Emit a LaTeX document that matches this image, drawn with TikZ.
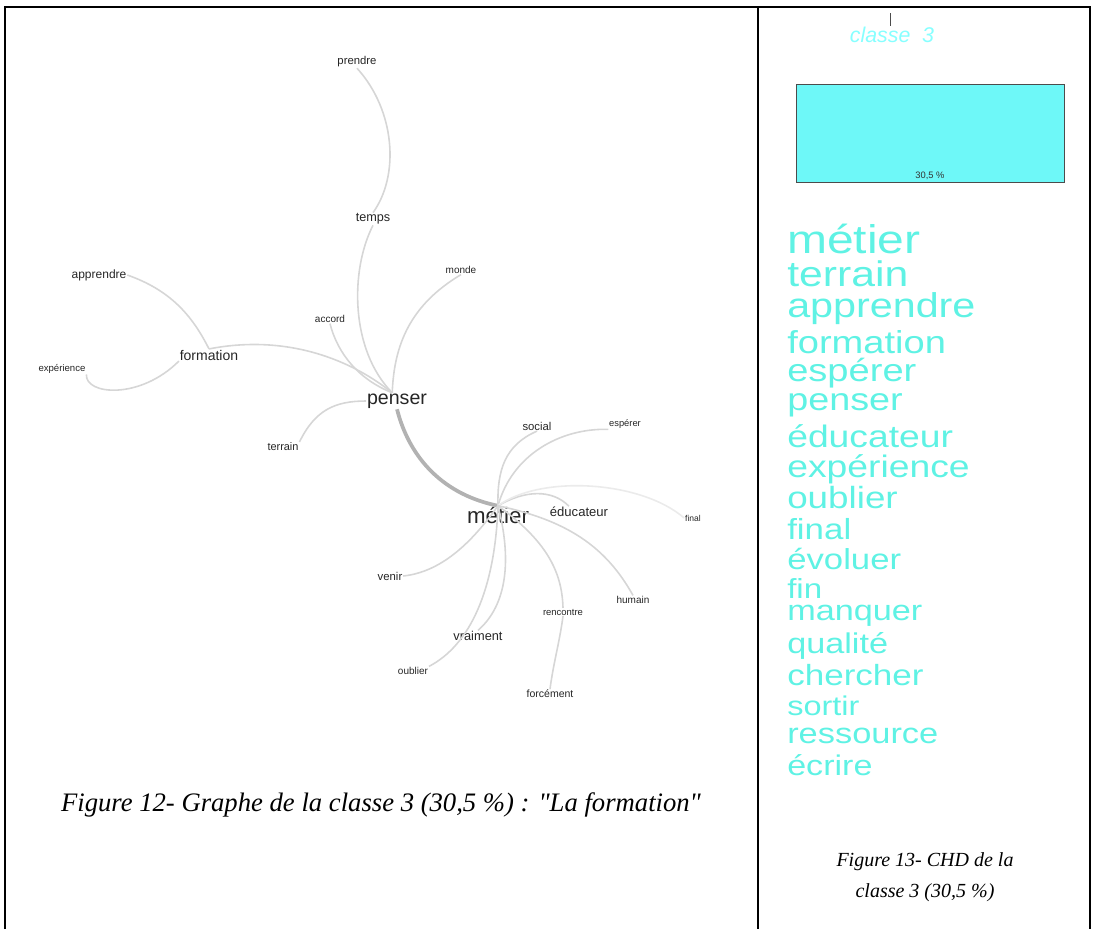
\documentclass[tikz,border=0pt]{standalone}
\usepackage{fontspec}
\setmainfont{Liberation Serif}
\setsansfont{Liberation Sans}
\newfontfamily\listfont[FakeStretch=1.2]{Liberation Sans}
\usetikzlibrary{positioning}

\definecolor{word-cyan}{RGB}{95,242,228}
\definecolor{box-cyan}{RGB}{110,248,248}
\definecolor{title-cyan}{RGB}{135,255,255}
\definecolor{edge-grey}{RGB}{214,214,214}

\tikzset{
    graph-word/.style = {font=\sffamily\fontsize{#1}{#1}\selectfont, text=black!85, inner sep=0.5pt},
    edge-line/.style = {draw=edge-grey, line width=1.2pt},
    faint-line/.style = {draw=black!8, line width=1.2pt},
    main-line/.style = {draw=black!30, line width=2.8pt},
    list-word/.style = {font=\listfont\fontsize{#1}{#1}\selectfont, text=word-cyan, anchor=base west, inner sep=0pt},
    class-box/.style = {draw=black!70, fill=box-cyan, thin, rectangle, inner sep=0pt},
    caption-text/.style = {font=\itshape\fontsize{20}{23}\selectfont, align=center},
    frame-line/.style = {line width=1.5pt},
}

\begin{document}
\begin{tikzpicture}[x=0.75pt, y=-0.75pt]
\useasboundingbox (0,0) rectangle (1094,929);

% frame
\draw[frame-line] (5,929) -- (5,7) -- (1090,7) -- (1090,929);
\draw[frame-line] (758,7) -- (758,929);

% graph words
\node[graph-word=8.5] (prendre) at (357,62) {prendre};
\node[graph-word=9.5] (temps) at (373,219) {temps};
\node[graph-word=9] (apprendre) at (99,275) {apprendre};
\node[graph-word=7.5] (monde) at (461,270) {monde};
\node[graph-word=7.5] (accord) at (330,319) {accord};
\node[graph-word=10.5] (formation) at (209,355) {formation};
\node[graph-word=7.2] (experience) at (62,369) {expérience};
\node[graph-word=14.7] (penser) at (397,401) {penser};
\node[graph-word=8.2] (terrain) at (283,447) {terrain};
\node[graph-word=8.5] (social) at (537,426) {social};
\node[graph-word=7] (esperer) at (625,424) {espérer};
\node[graph-word=16.7] (metier) at (498,515) {métier};
\node[graph-word=9.8] (educateur) at (579,512) {éducateur};
\node[graph-word=6.4] (final) at (693,518) {final};
\node[graph-word=8.5] (venir) at (390,576) {venir};
\node[graph-word=7.5] (humain) at (633,600) {humain};
\node[graph-word=7.1] (rencontre) at (563,612) {rencontre};
\node[graph-word=9.6] (vraiment) at (478,636) {vraiment};
\node[graph-word=7.5] (oublier) at (413,671) {oublier};
\node[graph-word=7.9] (forcement) at (550,694) {forcément};

% links around penser
\draw[edge-line] (prendre.south) .. controls (395,110) and (400,175) .. (temps.north);
\draw[edge-line] (temps.south) .. controls (350,270) and (350,350) .. (penser.120);
\draw[edge-line] (monde.south) .. controls (410,305) and (394,345) .. (penser.120);
\draw[edge-line] (accord.south) .. controls (338,355) and (360,380) .. (penser.120);
\draw[edge-line] (formation.north) .. controls (280,335) and (345,355) .. (penser.120);
\draw[edge-line] (terrain.north east) .. controls (315,410) and (335,401) .. (penser.west);
\draw[edge-line] (apprendre.east) .. controls (170,290) and (192,315) .. (formation.north);
\draw[edge-line] (formation.south west) .. controls (140,400) and (85,395) .. (experience.south east);
\draw[main-line] (penser.south) .. controls (410,460) and (445,495) .. (metier.north);

% links around metier
\draw[edge-line] (metier.north) .. controls (497,470) and (505,445) .. (social.south);
\draw[edge-line] (metier.north) .. controls (512,455) and (560,428) .. (esperer.south west);
\draw[edge-line] (metier.north) .. controls (525,490) and (552,489) .. (educateur.150);
\draw[faint-line] (metier.north) .. controls (540,475) and (640,480) .. (final.west);
\draw[edge-line] (metier.north) .. controls (565,520) and (605,545) .. (humain.north);
\draw[edge-line] (metier.north) .. controls (545,540) and (562,570) .. (rencontre.north);
\draw[edge-line] (rencontre.south) .. controls (560,640) and (553,665) .. (forcement.north);
\draw[edge-line] (metier.north) .. controls (512,560) and (507,605) .. (vraiment.north);
\draw[edge-line] (metier.north) .. controls (495,590) and (470,645) .. (oublier.north east);
\draw[edge-line] (metier.north) .. controls (470,545) and (440,572) .. (venir.east);

% CHD of the class
\node[font=\sffamily\itshape\fontsize{16}{16}\selectfont, text=title-cyan, inner sep=1pt] (class-title) at (892,35) {classe\ \ 3};
\coordinate (tick-top) at (890,13);
\draw[black!70, thin] (tick-top) -- (class-title.north -| tick-top);
\node[class-box, minimum width=201pt, minimum height=73.5pt] (class-bar) at (930,133) {};
\node[font=\sffamily\fontsize{7}{7}\selectfont, text=black!80, inner sep=0pt, above=2pt of class-bar.south] (bar-label) {30,5 \%};

% word list
\node[list-word=30] (w-metier) at (787,253) {métier};
\node[list-word=26.7] (w-terrain) at (787,286) {terrain};
\node[list-word=25.8] (w-apprendre) at (787,317) {apprendre};
\node[list-word=23.8] (w-formation) at (787,353) {formation};
\node[list-word=23.8] (w-esperer) at (787,381) {espérer};
\node[list-word=23.6] (w-penser) at (787,410) {penser};
\node[list-word=23.3] (w-educateur) at (787,447) {éducateur};
\node[list-word=23.3] (w-experience) at (787,477) {expérience};
\node[list-word=23] (w-oublier) at (787,508) {oublier};
\node[list-word=21.8] (w-final) at (787,539) {final};
\node[list-word=21.7] (w-evoluer) at (787,569) {évoluer};
\node[list-word=20.7] (w-fin) at (787,598) {fin};
\node[list-word=21.4] (w-manquer) at (787,620) {manquer};
\node[list-word=21.4] (w-qualite) at (787,653) {qualité};
\node[list-word=21.9] (w-chercher) at (787,685) {chercher};
\node[list-word=20.3] (w-sortir) at (787,715) {sortir};
\node[list-word=21.5] (w-ressource) at (787,743) {ressource};
\node[list-word=21.3] (w-ecrire) at (787,775) {écrire};

% captions
\node[caption-text] (fig-graph) at (381,805) {Figure 12- Graphe de la classe 3 (30,5 \%) : \textquotedbl La formation\textquotedbl};
\node[caption-text, font=\itshape\fontsize{15}{23}\selectfont] (fig-chd) at (925,877) {Figure 13- CHD de la\\classe 3 (30,5 \%)};
\end{tikzpicture}
\end{document}
